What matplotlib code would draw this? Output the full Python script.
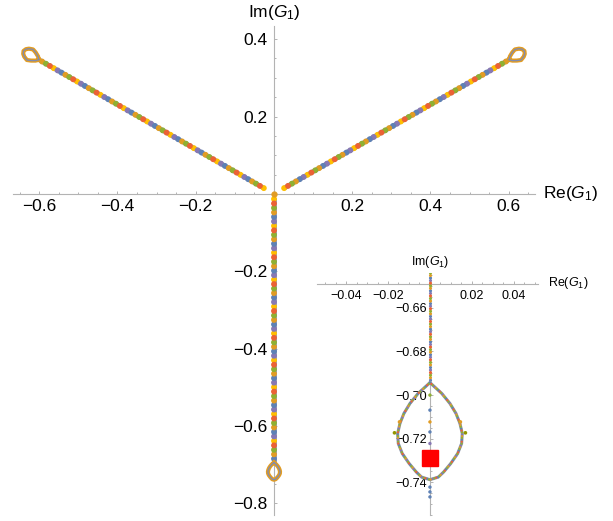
import matplotlib
matplotlib.use("Agg")
import matplotlib.pyplot as plt
from matplotlib.ticker import FixedLocator, MultipleLocator, FuncFormatter

plt.rcParams['font.family'] = ['Liberation Sans', 'DejaVu Sans']
plt.rcParams['mathtext.fontset'] = 'custom'
plt.rcParams['mathtext.rm'] = 'Liberation Sans'
plt.rcParams['mathtext.it'] = 'Liberation Sans:italic'

AXIS_GRAY = '#b3b3b3'
PALETTE = ['#FFBF00', '#8778B3', '#5E81B5', '#E19C24', '#8FB032', '#EB6235']
ORANGE = '#E19C24'

# --- data ----------------------------------------------------------------
# lower branch: straight stem on the imaginary axis, then a teardrop loop
stem_x = [0.0, 0.0]
stem_y = [-0.012, -0.6943]
loop_x = [0.0, 0.0056, 0.0095, 0.0124, 0.0143, 0.0154, 0.0151, 0.0132, 0.0099,
          0.0065, 0.0040, 0.0, -0.0040, -0.0065, -0.0099, -0.0132, -0.0151,
          -0.0154, -0.0143, -0.0124, -0.0095, -0.0056, 0.0]
loop_y = [-0.6943, -0.6992, -0.7038, -0.7084, -0.7130, -0.7176, -0.7222, -0.7268,
          -0.7314, -0.7353, -0.7376, -0.7388, -0.7376, -0.7353, -0.7314, -0.7268,
          -0.7222, -0.7176, -0.7130, -0.7084, -0.7038, -0.6992, -0.6943]

# upper-right branch
right_x = [0.026, 0.601]
right_y = [0.015, 0.347]
rloop_x = [0.601, 0.6030, 0.6089, 0.6157, 0.6262, 0.6339, 0.6400, 0.6409, 0.6382,
           0.6315, 0.6209, 0.6094, 0.601]
rloop_y = [0.347, 0.3555, 0.3654, 0.3734, 0.3754, 0.3741, 0.3695, 0.3619, 0.3546,
           0.3461, 0.3446, 0.3445, 0.347]

# upper-left branch
left_x = [-0.026, -0.601]
left_y = [0.015, 0.347]
lloop_x = [-0.601, -0.6030, -0.6089, -0.6157, -0.6262, -0.6339, -0.6400, -0.6409,
           -0.6382, -0.6315, -0.6209, -0.6094, -0.601]
lloop_y = rloop_y

# loose points on the axis inside / below the lower loop
inner_y = [-0.700, -0.7069, -0.7123, -0.7169, -0.7222, -0.7422, -0.7444, -0.7467]
inner_c = ['#8FB032', '#5E81B5', '#E19C24', '#5E81B5', '#8778B3', '#5E81B5',
           '#5E81B5', '#5E81B5']
# stray points just outside the loop
stray_x = [-0.0145, -0.0169, 0.0169, 0.0145]
stray_y = [-0.7123, -0.7173, -0.7173, -0.7123]
stray_c = ['#E19C24', '#929600', '#929600', '#E19C24']

# marked point
mark_x, mark_y = 0.0, -0.7288

main_xticks = [-0.6, -0.4, -0.2, 0.2, 0.4, 0.6]
main_yticks = [-0.8, -0.6, -0.4, -0.2, 0.2, 0.4]
ins_xticks = [-0.04, -0.02, 0.02, 0.04]
ins_yticks = [-0.74, -0.72, -0.70, -0.68, -0.66]


def dotted(ax, x, y, lw, colors, step=0.75, zorder=3):
    """Overlapping round dots cycling through colours along a path."""
    n = len(colors)
    for k, c in enumerate(colors):
        ax.plot(x, y, color=c, lw=lw, dash_capstyle='round',
                ls=(k * step, (0.001, n * step - 0.001)), zorder=zorder)


def mma_axes(ax, xt, yt, minor, x0, y0, fmt, size, xpad, ypad):
    for s in ('top', 'right'):
        ax.spines[s].set_visible(False)
    ax.spines['left'].set_position(('data', x0))
    ax.spines['bottom'].set_position(('data', y0))
    for s in ('left', 'bottom'):
        ax.spines[s].set_color(AXIS_GRAY)
        ax.spines[s].set_linewidth(0.8)
    ax.xaxis.set_major_locator(FixedLocator(xt))
    ax.yaxis.set_major_locator(FixedLocator(yt))
    ax.xaxis.set_minor_locator(MultipleLocator(minor))
    ax.yaxis.set_minor_locator(MultipleLocator(minor))
    f = FuncFormatter(lambda v, p: (fmt % v).replace('-', '\u2212'))
    ax.xaxis.set_major_formatter(f)
    ax.yaxis.set_major_formatter(f)
    ax.tick_params(which='both', direction='in', color=AXIS_GRAY, width=0.7,
                   labelsize=size, labelcolor='black')
    ax.tick_params(which='major', length=2.5)
    ax.tick_params(which='minor', length=1.5)
    ax.tick_params(axis='x', pad=xpad)
    ax.tick_params(axis='y', pad=ypad)
    ax.set_facecolor('none')


fig = plt.figure(figsize=(6.13, 5.21), dpi=100)

# --- main plot ------------------------------------------------------------
ax = fig.add_axes([0.0212, 0.0115, 0.8515, 0.9386])
ax.set_xlim(-0.667, 0.667)
ax.set_ylim(-0.83, 0.434)
mma_axes(ax, main_xticks, main_yticks, 0.05, 0, 0, '%.1f', 12.5, 4, 5)

for bx, by in [(stem_x, stem_y), (right_x, right_y), (left_x, left_y)]:
    ax.plot(bx, by, color='#8a8fa8', lw=3.4, solid_capstyle='round', zorder=2)
    dotted(ax, bx, by, 4.3, PALETTE)
for lx, ly in [(loop_x, loop_y), (rloop_x, rloop_y), (lloop_x, lloop_y)]:
    ax.plot(lx, ly, color=ORANGE, lw=3.0, zorder=3)
    ax.plot(lx, ly, color='#7f8bb0', lw=0.9, zorder=4)
ax.plot([0], [0], 'o', color=ORANGE, ms=3.5, zorder=4)

ax.annotate('Im($G_1$)', xy=(0, 1), xycoords=('data', 'axes fraction'),
            xytext=(0, 3), textcoords='offset points', ha='center', va='bottom',
            fontsize=12.5)
ax.annotate('Re($G_1$)', xy=(1, 0), xycoords=('axes fraction', 'data'),
            xytext=(6, 0), textcoords='offset points', ha='left', va='center',
            fontsize=12.5)

# --- inset zoom on the lower loop ----------------------------------------
ins = fig.add_axes([0.5166, 0.0115, 0.3610, 0.4645])
ins.set_xlim(-0.054, 0.0515)
ins.set_ylim(-0.755, -0.644)
mma_axes(ins, ins_xticks, ins_yticks, 0.005, 0, -0.649, '%.2f', 9, 4.5, 2)

dotted(ins, stem_x, stem_y, 2.3, ['#8778B3', '#5E81B5', '#E19C24', '#8FB032',
                                   '#EB6235'], step=0.8)
ins.plot(loop_x, loop_y, color='#8a96a8', lw=2.2, zorder=3)
dotted(ins, loop_x, loop_y, 1.7, ['#5E81B5', '#8FB032', '#E19C24', '#8778B3',
                                   '#8FB032', '#EB6235'], step=0.8, zorder=4)
ins.scatter([0] * len(inner_y), inner_y, s=6, c=inner_c, zorder=4, linewidths=0)
ins.scatter(stray_x, stray_y, s=7, c=stray_c, zorder=4, linewidths=0)
ins.plot([mark_x], [mark_y], 's', color='#ff0000', ms=11.5, zorder=6)

ins.annotate('Im($G_1$)', xy=(0, 1), xycoords=('data', 'axes fraction'),
             xytext=(0, 2), textcoords='offset points', ha='center', va='bottom',
             fontsize=9)
ins.annotate('Re($G_1$)', xy=(1, -0.649), xycoords=('axes fraction', 'data'),
             xytext=(7, 1), textcoords='offset points', ha='left', va='center',
             fontsize=9)

fig.savefig('out.png', dpi=100)
